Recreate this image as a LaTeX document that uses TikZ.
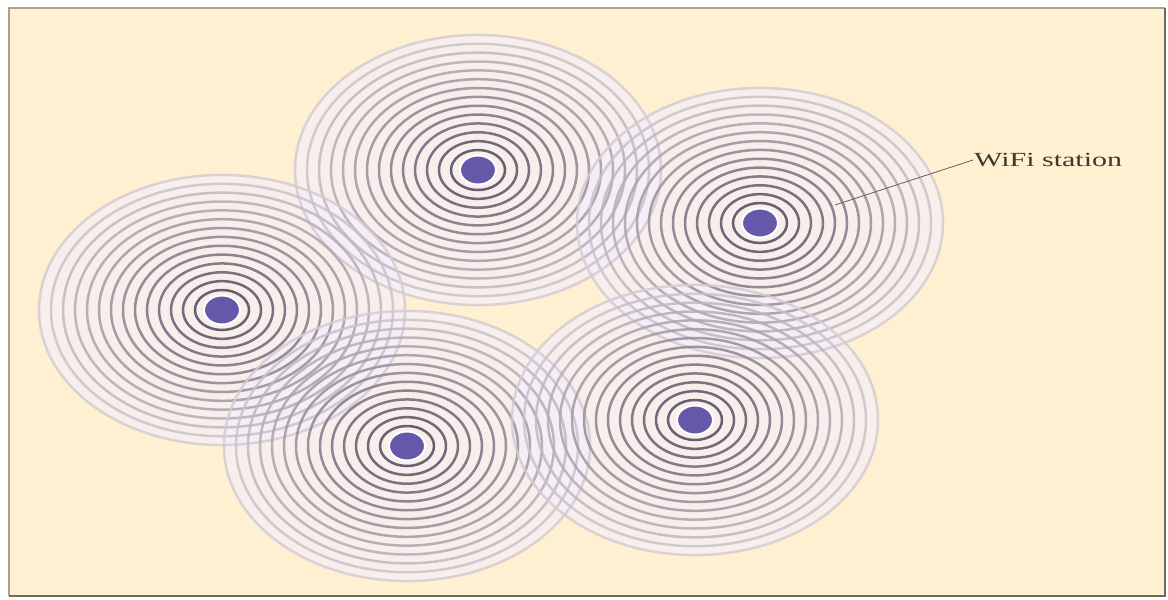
\documentclass[tikz,border=0pt]{standalone}
\usepackage{fontspec}
\setmainfont{Liberation Serif}
\usepackage{graphicx}
\usetikzlibrary{shapes.geometric}
\definecolor{bg}{RGB}{254,240,208}
\definecolor{frameA}{RGB}{172,162,140}
\definecolor{frameB}{RGB}{110,105,90}
\definecolor{dotc}{RGB}{102,88,168}
\definecolor{ringin}{RGB}{78,72,90}
\definecolor{ringout}{RGB}{212,204,208}
\definecolor{haze}{RGB}{244,238,255}
\definecolor{txt}{RGB}{60,58,45}
\tikzset{
  dot/.style={ellipse, fill=dotc, draw=white, line width=2pt, minimum width=36pt, minimum height=29pt, inner sep=0pt},
  labeltext/.style={font=\fontsize{20}{24}\selectfont, text=txt, inner sep=1pt},
  leader/.style={draw=txt!80, line width=0.8pt}
}
\begin{document}
\begin{tikzpicture}[x=1pt,y=-1pt]
\useasboundingbox (0,0) rectangle (1168,600);
\fill[white] (0,0) rectangle (1168,600);
\fill[bg] (9,8) rectangle (1165,596);
\draw[frameA, line width=2.5pt] (1165,8) -- (9,8) -- (9,596);
\draw[frameB, line width=2.5pt] (9,596) -- (1165,596) -- (1165,8);
% haze under rings
\foreach \p in {(478,170),(760,223),(222,310),(407,446),(695,420)}
  \fill[haze, fill opacity=0.6] \p ellipse [x radius=184pt, y radius=136pt];
% rings
\foreach \p in {(478,170),(760,223),(222,310),(407,446),(695,420)}{
  \foreach \i in {0,...,13}{
    \pgfmathtruncatemacro\mix{100-\i*100/13}
    \draw[ringin!\mix!ringout, line width=2.5pt, draw opacity=0.85]
      \p ellipse [x radius={27pt+12pt*\i}, y radius={20pt+8.85pt*\i}];
  }
}
% stations
\node[dot] (s1) at (478,170) {};
\node[dot] (s2) at (760,223) {};
\node[dot] (s3) at (222,310) {};
\node[dot] (s4) at (407,446) {};
\node[dot] (s5) at (695,420) {};
% label
\node[labeltext, anchor=west] (lbl) at (973,160) {\scalebox{1.5}[1]{WiFi station}};
\coordinate (tip) at (835,205);
\draw[leader] (lbl.west) -- (tip);
\end{tikzpicture}
\end{document}
